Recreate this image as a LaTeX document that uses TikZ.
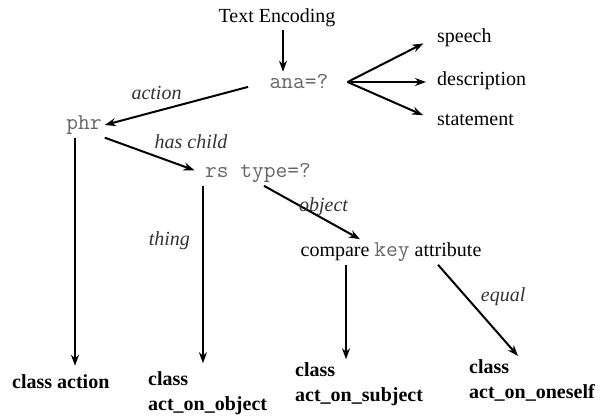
\documentclass[tikz,border=0pt]{standalone}
\usepackage{fontspec}
\setmainfont{Liberation Serif}
\usetikzlibrary{positioning,arrows.meta}
\usepackage{xcolor}

\newcommand{\codefont}{\fontsize{22.8}{25}\selectfont\ttfamily}

\begin{document}
\begin{tikzpicture}[
    x=1pt, y=-1pt,
    txt/.style={
        font=\fontsize{20}{25}\selectfont,
        inner sep=3pt
    },
    code/.style={
        font=\codefont,
        text=black!60,
        inner sep=3pt
    },
    lbl/.style={
        font=\fontsize{20}{25}\selectfont\itshape,
        text=black!80,
        inner sep=2pt
    },
    cls/.style={
        font=\fontsize{20}{25}\selectfont\bfseries,
        align=left,
        inner sep=3pt
    },
    arrow/.style={
        -{Stealth[length=11pt,width=8pt]},
        line width=2pt
    }
]

\useasboundingbox (0,0) rectangle (607,417);

\node[txt] (encoding) at (277,18) {Text Encoding};
\node[code] (ana) at (299,82) {ana=?};
\coordinate (fork) at ([xshift=16pt]ana.east);

\node[txt, anchor=west] (speech) at (434,38) {speech};
\node[txt, anchor=west] (description) at (434,81) {description};
\node[txt, anchor=west] (statement) at (434,120) {statement};

\node[code] (phr) at (84,125) {phr};
\node[code] (rstype) at (258,173) {rs type=?};
\node[txt] (compare) at (391,252) {compare {\codefont\color{black!60}key} attribute};

\node[cls, anchor=west] (classaction) at (9,382) {class action};
\node[cls, anchor=west] (actobject) at (145,393) {class\\act\_on\_object};
\node[cls, anchor=west] (actsubject) at (292,384) {class\\act\_on\_subject};
\node[cls, anchor=west] (actoneself) at (466,380) {class\\act\_on\_oneself};

% top part
\draw[arrow] ([xshift=6pt]encoding.south) -- ([xshift=6pt]encoding.south |- ana.north);
\draw[arrow, shorten >=12pt] (fork) -- (speech.west);
\draw[arrow, shorten >=8pt] (fork) -- (description.west |- fork);
\draw[arrow, shorten >=12pt] (fork) -- (statement.west);

\draw[arrow, shorten <=19pt] (ana.west) -- node[lbl, pos=.68, above=9pt] {action} (phr.east);
\draw[arrow, shorten >=8pt] (phr.south east) -- node[lbl, pos=.46, above right=3pt] {has child} (rstype.west);

% down to the classes
\draw[arrow, shorten >=6pt] ([xshift=-9pt]phr.south) -- ([xshift=-9pt]phr.south |- classaction.north);
\draw[arrow, shorten >=5pt] ([xshift=1pt]rstype.south west) -- node[lbl, pos=.3, left=10pt] {thing}
    ([xshift=1pt]rstype.south west |- actobject.north);
\draw[arrow] ([xshift=6pt]rstype.south) -- node[lbl, pos=.62, above] {object} ([xshift=-31pt]compare.north);
\draw[arrow] ([xshift=-45pt]compare.south) -- ([xshift=-45pt]compare.south |- actsubject.north);
\draw[arrow] ([xshift=47pt]compare.south) -- node[lbl, pos=.35, right=12pt] {equal} ([xshift=-14pt]actoneself.north);

\end{tikzpicture}
\end{document}
